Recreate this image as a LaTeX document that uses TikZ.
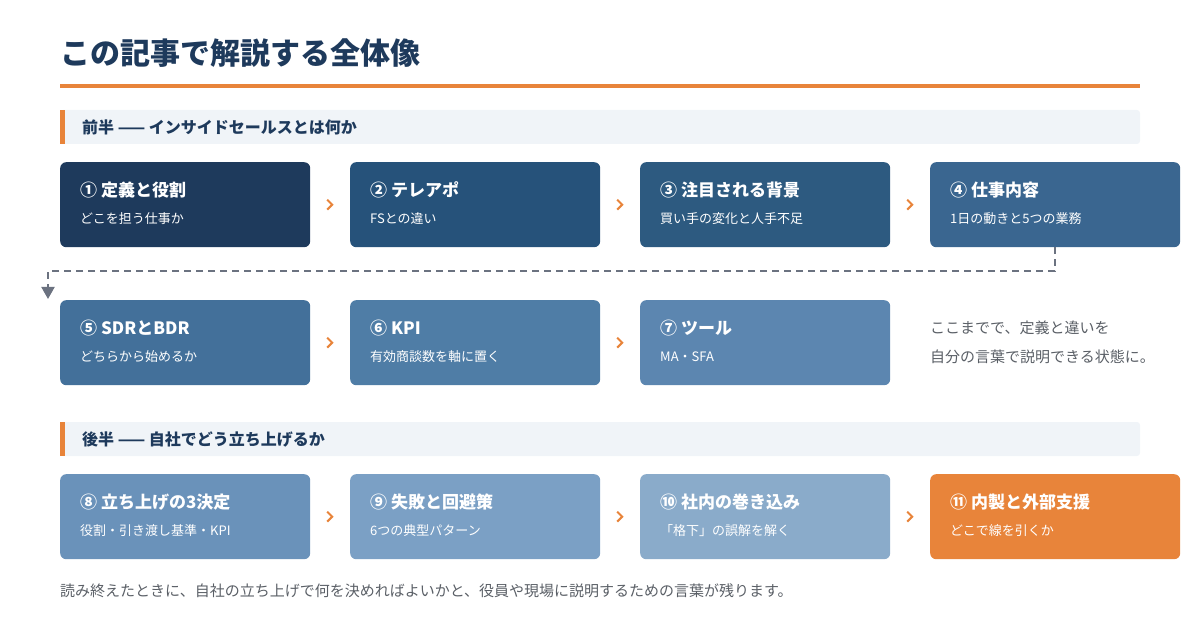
\documentclass[tikz,border=0pt]{standalone}
\usepackage{fontspec}
\setmainfont{Noto Sans CJK JP}
\usetikzlibrary{positioning,calc,arrows.meta}
\definecolor{navy}{HTML}{1E3A5C}
\definecolor{accent}{HTML}{E8843A}
\definecolor{barbg}{HTML}{F0F4F8}
\definecolor{dashgray}{HTML}{6B7280}
\definecolor{note}{HTML}{5A5F66}
\definecolor{cA}{HTML}{1E3A5C}
\definecolor{cB}{HTML}{26527A}
\definecolor{cC}{HTML}{2D5A80}
\definecolor{cD}{HTML}{3A6690}
\definecolor{cE}{HTML}{43709A}
\definecolor{cF}{HTML}{4F7DA6}
\definecolor{cG}{HTML}{5C86B0}
\definecolor{cH}{HTML}{6A92BA}
\definecolor{cI}{HTML}{7BA0C5}
\definecolor{cJ}{HTML}{8AABCA}
\definecolor{cK}{HTML}{E8843A}
\tikzset{
  card/.style={fill=#1, rounded corners=6pt, minimum width=250pt, minimum height=85pt, anchor=north west, inner sep=0pt},
  cardtitle/.style={text=white, font=\fontsize{17}{20}\selectfont\bfseries, anchor=west, inner sep=0pt},
  cardsub/.style={text=white, font=\fontsize{13}{16}\selectfont, anchor=west, inner sep=0pt},
  bar/.style={fill=barbg, rounded corners=3pt},
  bartext/.style={text=navy, font=\fontsize{16}{19}\selectfont\bfseries, anchor=west, inner sep=0pt},
  chev/.style={draw=accent, line width=2pt},
  note/.style={text=note, font=\fontsize{15}{18}\selectfont, anchor=west, inner sep=0pt}
}
\begin{document}
\begin{tikzpicture}[x=1pt, y=-1pt]
\useasboundingbox (0,0) rectangle (1200,620);
	% title
	\node[text=navy, font=\fontsize{30}{34}\selectfont\bfseries, anchor=west, inner sep=0pt] (title) at (60,53) {この記事で解説する全体像};
	\draw[accent, line width=3.5pt] (60,86) -- (1140,86);
	% section bars
	\foreach \y/\n/\t in {110/s1/前半 —— インサイドセールスとは何か, 422/s2/後半 —— 自社でどう立ち上げるか}
	{
		\fill[bar] (60,\y) rectangle (1140,\y+34);
		\fill[accent] (60,\y) rectangle (65,\y+34);
		\node[bartext] (\n) at (82,\y+17) {\t};
	}
	% cards
	\foreach \i/\x/\y/\c/\t/\s in {
		1/60/162/cA/① 定義と役割/どこを担う仕事か,
		2/350/162/cB/② テレアポ/FSとの違い/分けるのは評価指標,
		3/640/162/cC/③ 注目される背景/買い手の変化と人手不足,
		4/930/162/cD/④ 仕事内容/1日の動きと5つの業務,
		5/60/300/cE/⑤ SDRとBDR/どちらから始めるか,
		6/350/300/cF/⑥ KPI/有効商談数を軸に置く,
		7/640/300/cG/⑦ ツール/MA・SFA/CRM・CTI,
		8/60/474/cH/⑧ 立ち上げの3決定/役割・引き渡し基準・KPI,
		9/350/474/cI/⑨ 失敗と回避策/6つの典型パターン,
		10/640/474/cJ/⑩ 社内の巻き込み/「格下」の誤解を解く,
		11/930/474/cK/⑪ 内製と外部支援/どこで線を引くか}
	{
		\node[card=\c] (b\i) at (\x,\y) {};
		\node[cardtitle] (t\i) at (\x+20,\y+28) {\t};
		\node[cardsub] (u\i) at (\x+20,\y+57) {\s};
	}
	% chevrons
	\foreach \a/\b in {1/2, 2/3, 3/4, 5/6, 6/7, 8/9, 9/10, 10/11}
	{
		\draw[chev] ($(b\a.east)!0.5!(b\b.west)+(-3,-5)$) -- ++(5,5) -- ++(-5,5);
	}
	% wrap to second row
	\coordinate (wrap) at ($(b5.north west)+(-12,-1)$);
	\draw[dashgray, line width=2pt, dash pattern=on 7pt off 5pt, -{Triangle[width=13pt,length=12pt]}] (b4.south) -- ++(0,24) -| (wrap);
	% notes
	\node[note] (n1) at (930,328) {ここまでで、定義と違いを};
	\node[note] (n2) at (930,357) {自分の言葉で説明できる状態に。};
	\node[note] (n3) at (60,591) {読み終えたときに、自社の立ち上げで何を決めればよいかと、役員や現場に説明するための言葉が残ります。};
\end{tikzpicture}
\end{document}
